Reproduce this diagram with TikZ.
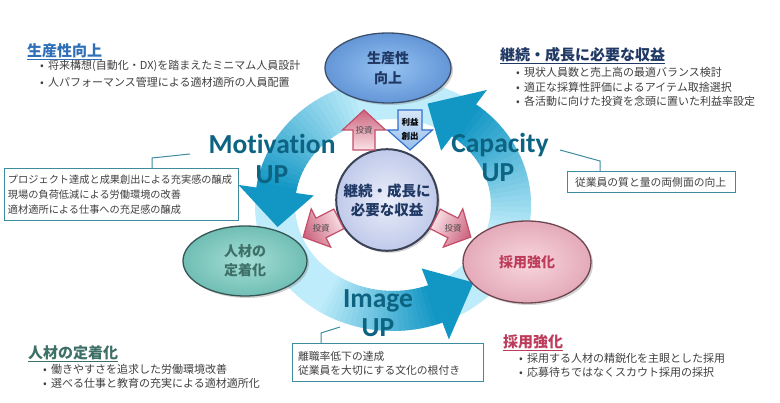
\documentclass[tikz,border=0pt]{standalone}
\usepackage{fontspec}
\setmainfont{Noto Sans CJK JP}
\newfontfamily\latfont[Ligatures={NoCommon}]{Carlito}
\usetikzlibrary{shapes.geometric,shadows,calc}

\definecolor{ringlight}{RGB}{190,236,250}
\definecolor{ringdark}{RGB}{18,150,196}
\definecolor{uptext}{RGB}{12,100,130}
\definecolor{navy}{RGB}{32,56,100}
\definecolor{prodblue}{RGB}{47,111,184}
\definecolor{keepteal}{RGB}{62,112,104}
\definecolor{hirered}{RGB}{188,60,90}
\definecolor{bodygray}{RGB}{64,64,64}
\definecolor{boxline}{RGB}{60,140,160}
\definecolor{invline}{RGB}{196,78,104}
\definecolor{invlight}{RGB}{250,226,232}
\definecolor{invdark}{RGB}{204,100,126}
\definecolor{profline}{RGB}{52,112,204}
\definecolor{proflight}{RGB}{214,230,248}
\definecolor{profdark}{RGB}{150,190,236}

\tikzset{
	topic/.style={font=\fontsize{15pt}{18pt}\selectfont\bfseries, anchor=west, inner sep=0pt},
	pointline/.style={font=\fontsize{11pt}{14pt}\selectfont, text=bodygray, anchor=west, inner sep=0pt},
	notebox/.style={draw=boxline, fill=white, line width=1pt, align=left, text=bodygray, inner ysep=3pt},
	calloutline/.style={boxline, line width=1pt},
	bubble/.style={ellipse, line width=1.3pt, align=center, font=\fontsize{14pt}{20pt}\selectfont\bfseries,
		drop shadow={opacity=0.35, shadow xshift=2pt, shadow yshift=-2pt}},
	upword/.style={font=\latfont\bfseries\fontsize{27.5pt}{30pt}\selectfont, text=uptext, anchor=base},
	investarrow/.style={draw=invline, line width=1.2pt, top color=invdark, bottom color=invlight},
	arrowtag/.style={font=\fontsize{8.5pt}{11pt}\selectfont, text=black!70, align=center}
}

\begin{document}
\begin{tikzpicture}[x=1pt,y=1pt]
	\fill[white] (0,0) rectangle (780,403);
	\useasboundingbox (0,0) rectangle (780,403);

	\coordinate (hub) at(393,198);
	\draw[ringlight, line width=40pt] (hub) ellipse[x radius=118, y radius=106];
	\foreach \st/\bs/\tp in {105/172/192, 235/291/313, 345/413/433}{
		\foreach \k in {0,...,23}{
			\pgfmathsetmacro\angA{\st+(\bs-\st)*\k/24}
			\pgfmathsetmacro\angB{\st+(\bs-\st)*(\k+1)/24+0.5}
			\pgfmathsetmacro\mixp{\k*100/23}
			\draw[ringdark!\mixp!ringlight, line width=40pt] ($(hub)+(\angA:118 and 106)$) arc[start angle=\angA, end angle=\angB, x radius=118, y radius=106];
		}
		\fill[ringdark] ($(hub)+(\bs:80 and 68)$) -- ($(hub)+(\bs:156 and 144)$) -- ($(hub)+(\tp:118 and 106)$) -- cycle;
	}

	\node[bubble, draw={rgb,255:red,60;green,80;blue,110}, inner color={rgb,255:red,150;green,195;blue,242}, outer color={rgb,255:red,100;green,150;blue,215}, minimum width=126pt, minimum height=70pt, text=navy] (prod) at(388,335) {生産性\\向上};
	\node[bubble, draw={rgb,255:red,55;green,85;blue,85}, inner color={rgb,255:red,165;green,222;blue,214}, outer color={rgb,255:red,112;green,190;blue,180}, minimum width=124pt, minimum height=70pt, text=keepteal, font=\fontsize{14pt}{19pt}\selectfont\bfseries] (keep) at(245,142) {人材の\\定着化};
	\node[bubble, draw={rgb,255:red,110;green,70;blue,80}, inner color={rgb,255:red,248;green,214;blue,222}, outer color={rgb,255:red,228;green,170;blue,185}, minimum width=128pt, minimum height=82pt, text=hirered] (hire) at(527,141) {採用強化};
	\node[bubble, circle, line width=2pt, draw={rgb,255:red,60;green,66;blue,85}, inner color={rgb,255:red,234;green,238;blue,250}, outer color={rgb,255:red,192;green,202;blue,234}, minimum size=100pt, text=navy, font=\fontsize{14.5pt}{19pt}\selectfont\bfseries] (core) at(387,203) {継続・成長に\\必要な収益};

	\foreach \x/\y/\r/\g/\n in {364/273/90/0/inv1, 321/175/207/117/inv2, 453/175/-27/-117/inv3}{
		\shade[investarrow, shading angle=\g, shift={(\x,\y)}, rotate=\r] (-20,-11) -- (0,-11) -- (0,-21.5) -- (20,0) -- (0,21.5) -- (0,11) -- (-20,11) -- cycle;
		\node[arrowtag] (\n) at(\x,\y) {投資};
	}
	\shade[draw=profline, line width=1.2pt, top color=profdark, bottom color=proflight, shading angle=180, shift={(410,273)}, rotate=-90] (-20,-12) -- (0,-12) -- (0,-22.5) -- (20,0) -- (0,22.5) -- (0,12) -- (-20,12) -- cycle;
	\node[arrowtag, font=\fontsize{8.5pt}{14pt}\selectfont\bfseries, text=black] (profit) at(410,273.5) {利益\\創出};

	\node[upword] (motword) at(272,249) {Motivation};
	\node[upword] (motup) at(272,219) {UP};
	\node[upword] (capword) at(500,250) {Capacity};
	\node[upword] (capup) at(498,221) {UP};
	\node[upword] (imgword) at(378,95) {Image};
	\node[upword] (imgup) at(378,66) {UP};

	\node[topic, text=prodblue] (h1) at(27,352) {生産性向上};
	\draw[prodblue, line width=1pt] ([yshift=-1pt]h1.south west) -- ([yshift=-1pt]h1.south east);
	\node[pointline] (p11) at(40,337) {\makebox[8pt][l]{•}将来構想(自動化・DX)を踏まえたミニマム人員設計};
	\node[pointline] (p12) at(40,321) {\makebox[8pt][l]{•}人パフォーマンス管理による適材適所の人員配置};

	\node[topic, text=navy] (h2) at(500,348) {継続・成長に必要な収益};
	\draw[navy, line width=1pt] ([yshift=-1pt]h2.south west) -- ([yshift=-1pt]h2.south east);
	\node[pointline] (p21) at(516,330.5) {\makebox[8pt][l]{•}現状人員数と売上高の最適バランス検討};
	\node[pointline] (p22) at(516,316) {\makebox[8pt][l]{•}適正な採算性評価によるアイテム取捨選択};
	\node[pointline] (p23) at(516,301.5) {\makebox[8pt][l]{•}各活動に向けた投資を念頭に置いた利益率設定};

	\node[topic, text=keepteal] (h3) at(28,50) {人材の定着化};
	\draw[keepteal, line width=1pt] ([yshift=-1pt]h3.south west) -- ([yshift=-1pt]h3.south east);
	\node[pointline] (p31) at(43,34) {\makebox[8pt][l]{•}働きやすさを追求した労働環境改善};
	\node[pointline] (p32) at(43,20) {\makebox[8pt][l]{•}選べる仕事と教育の充実による適材適所化};

	\node[topic, text=hirered] (h4) at(503,61) {採用強化};
	\draw[hirered, line width=1pt] ([yshift=-1pt]h4.south west) -- ([yshift=-1pt]h4.south east);
	\node[pointline] (p41) at(519,45) {\makebox[8pt][l]{•}採用する人材の精鋭化を主眼とした採用};
	\node[pointline] (p42) at(519,31) {\makebox[8pt][l]{•}応募待ちではなくスカウト採用の採択};

	\node[notebox, text width=226pt, inner xsep=4pt, minimum height=52pt, font=\fontsize{10.2pt}{15pt}\selectfont] (note1) at(121,208) {プロジェクト達成と成果創出による充実感の醸成\\現場の負荷低減による労働環境の改善\\適材適所による仕事への充足感の醸成};
	\node[notebox, text width=152pt, inner xsep=8pt, minimum height=21pt, font=\fontsize{10.8pt}{14pt}\selectfont] (note2) at(651,220.5) {従業員の質と量の両側面の向上};
	\node[notebox, text width=179pt, inner xsep=6pt, minimum height=38pt, font=\fontsize{10.8pt}{14pt}\selectfont] (note3) at(387.5,40) {離職率低下の達成\\従業員を大切にする文化の根付き};

	\coordinate (k1) at(152,245);
	\coordinate (m1) at(190,249);
	\draw[calloutline] (note1.north -| k1) -- (k1) -- (m1);
	\coordinate (k2) at(600,242);
	\coordinate (m2) at(560,253);
	\draw[calloutline] (note2.north -| k2) -- (k2) -- (m2);
	\coordinate (k3) at(321,70);
	\coordinate (m3) at(340,76);
	\draw[calloutline] (note3.north -| k3) -- (k3) -- (m3);
\end{tikzpicture}
\end{document}
